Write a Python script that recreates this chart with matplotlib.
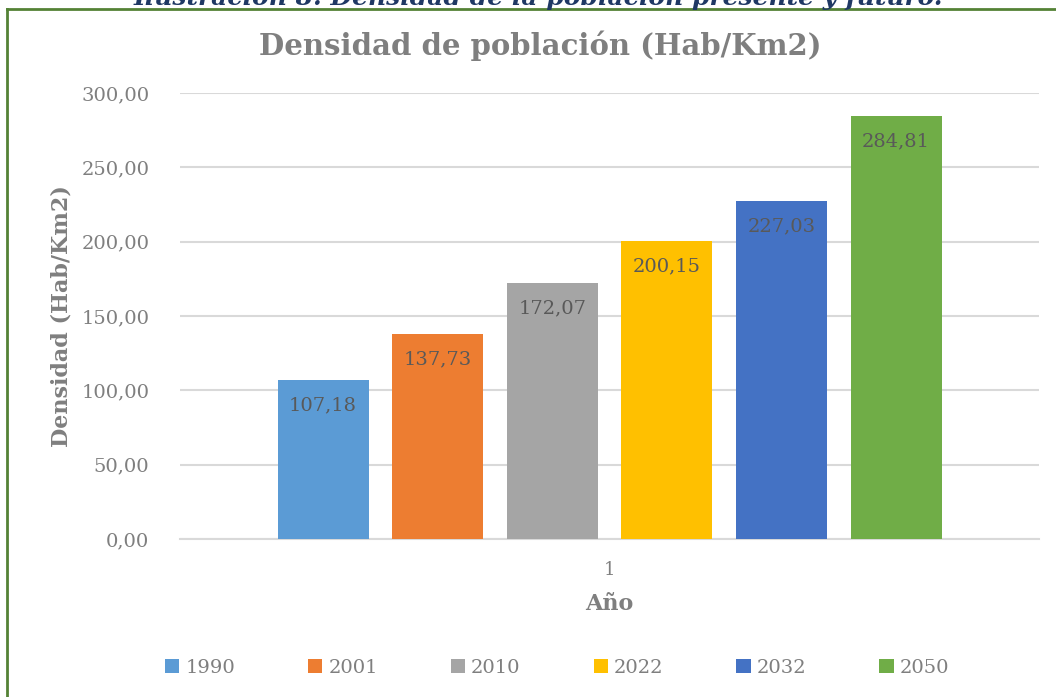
import matplotlib
matplotlib.use("Agg")
from matplotlib import pyplot as plt
from matplotlib.lines import Line2D
from matplotlib.patches import Patch

# Data
years = ["1990", "2001", "2010", "2022", "2032", "2050"]
densities = [107.18, 137.73, 172.07, 200.15, 227.03, 284.81]
colors = ["#5B9BD5", "#ED7D31", "#A5A5A5", "#FFC000", "#4472C4", "#70AD47"]
category = ["1"]
yticks = [0, 50, 100, 150, 200, 250, 300]

gray = "#7F7F7F"
serif = "DejaVu Serif"

fig = plt.figure(figsize=(10.56, 6.97), dpi=100)
W, H = 1056, 697

# Green frame (left and top edges only are visible)
fig.lines.append(Line2D([7 / W, 7 / W], [0, 1 - 9 / H], transform=fig.transFigure,
                        color="#548235", linewidth=2))
fig.lines.append(Line2D([7 / W, 1], [1 - 9 / H, 1 - 9 / H], transform=fig.transFigure,
                        color="#548235", linewidth=2))

# Caption, cut off at the top of the image
fig.text(538 / W, 1 + 2 / H, "Ilustración 8. Densidad de la población presente y futuro.",
         ha="center", va="center", fontsize=18, fontweight="bold", fontstyle="italic",
         color="#1F3864", family=serif)

ax = fig.add_axes([180 / W, 1 - 539 / H, (1039 - 180) / W, (539 - 93) / H])

bar_w = 91 / 859
step = 114.6 / 859
for i, (yr, val, c) in enumerate(zip(years, densities, colors)):
    x = (i - 2.5) * step
    ax.bar(x, val, width=bar_w, color=c, zorder=3, label=yr)
    ax.text(x, val - 11, f"{val:.2f}".replace(".", ","), ha="center", va="top",
            fontsize=14, color="#595959", family=serif, zorder=4)

ax.set_xlim(-0.5, 0.5)
ax.set_ylim(0, 300)
ax.set_yticks(yticks)
ax.set_yticklabels([f"{v:.2f}".replace(".", ",") for v in yticks], family=serif,
                   fontsize=14, color=gray)
ax.set_xticks([0])
ax.set_xticklabels(category, family=serif, fontsize=13, color=gray)
ax.tick_params(axis="both", length=0)
ax.tick_params(axis="y", pad=22)
ax.tick_params(axis="x", pad=16)
ax.grid(axis="y", color="#D9D9D9", linewidth=1.5, zorder=0)
for s in ["top", "right", "left"]:
    ax.spines[s].set_visible(False)
ax.spines["bottom"].set_color("#D9D9D9")
ax.spines["bottom"].set_linewidth(1.5)

ax.set_xlabel("Año", family=serif, fontsize=16, fontweight="bold", color=gray, labelpad=10)
ax.set_ylabel("Densidad (Hab/Km2)", family=serif, fontsize=16, fontweight="bold",
              color=gray, labelpad=6)

fig.text(540 / W, 1 - 46 / H, "Densidad de población (Hab/Km2)", ha="center", va="center",
         fontsize=21, fontweight="bold", color=gray, family=serif)

handles = [Patch(facecolor=c, edgecolor="none") for c in colors]
fig.legend(handles, years, loc="center", bbox_to_anchor=(557 / W, 1 - 668 / H), ncol=6,
           frameon=False, prop={"family": serif, "size": 14}, labelcolor=gray,
           handlelength=0.75, handleheight=0.75, handletextpad=0.3, columnspacing=3.75)

fig.savefig("out.png", dpi=100)
